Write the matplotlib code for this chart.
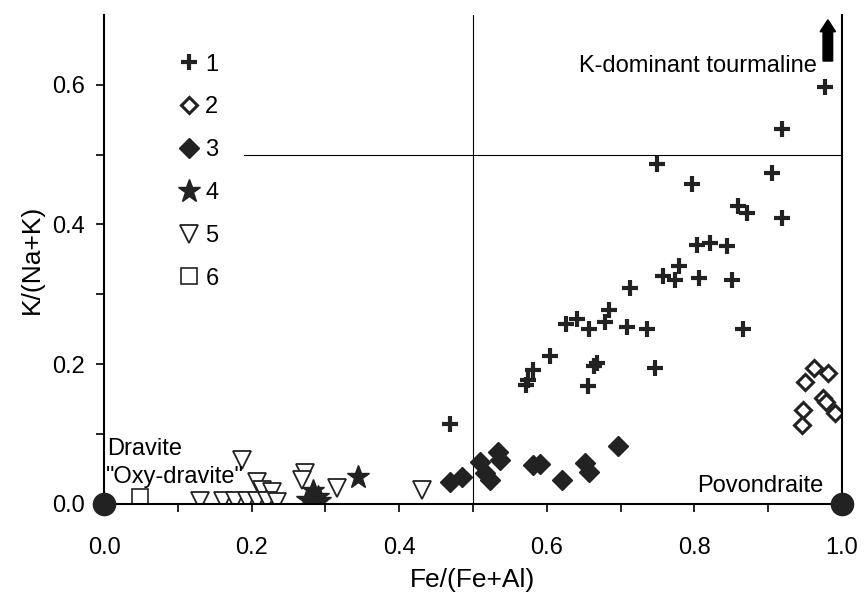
import matplotlib
matplotlib.use("Agg")
import matplotlib.pyplot as plt

plt.rcParams['font.family'] = ['Liberation Sans', 'DejaVu Sans']

# group 1: plus
g1_x = [0.469, 0.572, 0.575, 0.581, 0.605, 0.626, 0.641, 0.657, 0.679, 0.684,
        0.709, 0.736, 0.668, 0.664, 0.656, 0.747, 0.713, 0.757, 0.774, 0.779,
        0.806, 0.851, 0.803, 0.821, 0.844, 0.859, 0.871, 0.919, 0.905, 0.797,
        0.749, 0.919, 0.977, 0.866]
g1_y = [0.114, 0.170, 0.178, 0.191, 0.211, 0.257, 0.264, 0.250, 0.260, 0.277,
        0.253, 0.251, 0.201, 0.197, 0.169, 0.195, 0.309, 0.326, 0.320, 0.340,
        0.323, 0.321, 0.370, 0.373, 0.369, 0.426, 0.416, 0.409, 0.474, 0.458,
        0.486, 0.536, 0.597, 0.251]
# group 2: open diamonds
g2_x = [0.962, 0.981, 0.950, 0.974, 0.979, 0.991, 0.947, 0.946]
g2_y = [0.194, 0.187, 0.174, 0.151, 0.146, 0.130, 0.134, 0.113]
# group 3: filled diamonds
g3_x = [0.469, 0.485, 0.509, 0.534, 0.537, 0.516, 0.523, 0.581, 0.591, 0.621,
        0.652, 0.657, 0.696]
g3_y = [0.031, 0.039, 0.060, 0.074, 0.063, 0.044, 0.034, 0.056, 0.057, 0.034,
        0.058, 0.045, 0.083]
# group 4: stars
g4_x = [0.275, 0.283, 0.290, 0.287, 0.280, 0.293, 0.344]
g4_y = [0.005, 0.018, 0.010, 0.000, 0.002, 0.004, 0.039]
# group 5: down triangles
g5_x = [0.187, 0.207, 0.214, 0.228, 0.130, 0.161, 0.177, 0.194, 0.207, 0.221,
        0.234, 0.272, 0.268, 0.316, 0.431]
g5_y = [0.063, 0.032, 0.020, 0.017, 0.004, 0.004, 0.004, 0.004, 0.004, 0.004,
        0.003, 0.044, 0.034, 0.023, 0.020]
# group 6: square
g6_x = [0.049]
g6_y = [0.010]

end_x = [0.0, 1.0]
end_y = [0.0, 0.0]

fig = plt.figure(figsize=(8.67, 5.97), dpi=100)
ax = fig.add_axes([0.12, 0.156, 0.851, 0.819])

ax.axvline(0.5, color='k', lw=0.8)
ax.plot([0.19, 1.0], [0.5, 0.5], color='k', lw=0.8)

ax.plot(g1_x, g1_y, ls='none', marker='+', ms=11, mew=3, color='#222', label='1')
ax.plot(g2_x, g2_y, ls='none', marker='D', ms=8, mew=2.2, mfc='white', mec='#222', label='2')
ax.plot(g3_x, g3_y, ls='none', marker='D', ms=10, color='#222', label='3')
ax.plot(g4_x, g4_y, ls='none', marker='*', ms=17, color='#222', label='4')
ax.plot(g5_x, g5_y, ls='none', marker='v', ms=13, mew=1.3, mfc='white', mec='#222', label='5')
ax.plot(g6_x, g6_y, ls='none', marker='s', ms=11, mew=1.2, mfc='white', mec='#222', label='6')
ax.plot(end_x, end_y, ls='none', marker='o', ms=16, color='#222', clip_on=False, zorder=5)

leg = ax.legend(loc='upper left', bbox_to_anchor=(0.086, 0.94), frameon=False,
                fontsize=17, labelspacing=0.88, handletextpad=0.2, handlelength=1.0,
                borderaxespad=0)

ax.text(0.004, 0.079, 'Dravite', fontsize=17, va='center', ha='left')
ax.text(0.002, 0.039, '"Oxy-dravite"', fontsize=17, va='center', ha='left')
ax.text(0.975, 0.026, 'Povondraite', fontsize=17, va='center', ha='right')
ax.text(0.966, 0.627, 'K-dominant tourmaline', fontsize=17, va='center', ha='right')
ax.arrow(0.981, 0.634, 0, 0.042, width=0.013, head_width=0.021, head_length=0.017,
         color='k', clip_on=False)

ax.set_xlim(0, 1.0)
ax.set_ylim(0, 0.7)
ax.set_xticks([0.0, 0.2, 0.4, 0.6, 0.8, 1.0])
ax.set_xticks([0.1, 0.3, 0.5, 0.7, 0.9], minor=True)
ax.set_yticks([0.0, 0.2, 0.4, 0.6])
ax.set_yticks([0.1, 0.3, 0.5], minor=True)
ax.tick_params(labelsize=17, width=1.2, length=6)
ax.tick_params(axis='x', pad=18)
ax.tick_params(axis='y', pad=8)
ax.tick_params(which='minor', width=1.2, length=6)
ax.spines['top'].set_visible(False)
for s in ['left', 'right', 'bottom']:
    ax.spines[s].set_linewidth(1.5)
ax.set_xlabel('Fe/(Fe+Al)', fontsize=19, labelpad=6)
ax.set_ylabel('K/(Na+K)', fontsize=19, labelpad=6)

fig.savefig('out.png')
